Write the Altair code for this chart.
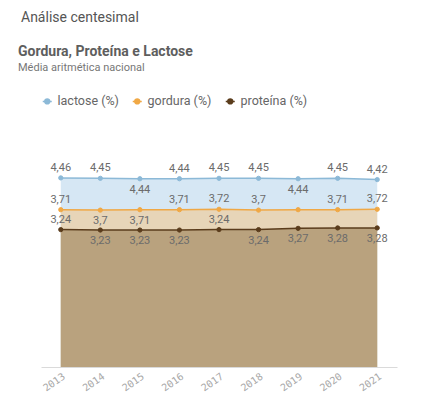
import altair as alt
import pandas as pd

anos = ["2013", "2014", "2015", "2016", "2017", "2018", "2019", "2020", "2021"]
series = ["lactose (%)", "gordura (%)", "proteína (%)"]

lactose = [4.46, 4.45, 4.44, 4.44, 4.45, 4.45, 4.44, 4.45, 4.42]
gordura = [3.71, 3.70, 3.71, 3.71, 3.72, 3.70, 3.71, 3.71, 3.72]
proteina = [3.24, 3.23, 3.23, 3.23, 3.24, 3.24, 3.27, 3.28, 3.28]

# onde fica o rótulo de cada ponto (como no painel original)
pos_lactose = ["cima", "cima", "baixo", "cima", "cima", "cima", "baixo", "cima", "cima"]
pos_gordura = ["cima", "baixo", "baixo", "cima", "cima", "cima", "nenhum", "cima", "cima"]
pos_proteina = ["cima", "baixo", "baixo", "baixo", "cima", "baixo", "baixo", "baixo", "baixo"]

cores_linha = ["#8cb9d7", "#f0a845", "#5a3c1c"]
cores_area = ["#d6e7f4", "#e7d5b8", "#b9a27e"]

rows = []
for serie, valores, posicoes in zip(
    series, [lactose, gordura, proteina], [pos_lactose, pos_gordura, pos_proteina]
):
    for ano, v, p in zip(anos, valores, posicoes):
        rows.append(
            {"Ano": ano, "Série": serie, "Valor": v, "Rótulo": str(v).replace(".", ","), "Pos": p}
        )
df = pd.DataFrame(rows)

FONT = "Roboto"
x = alt.X(
    "Ano:N",
    title=None,
    sort=anos,
    scale=alt.Scale(type="point", padding=0.5),
    axis=alt.Axis(
        labelAngle=325,
        labelFont="DejaVu Sans Mono",
        labelFontSize=10,
        labelColor="#a8a8a8",
        ticks=False,
        domainColor="#dadada",
        labelPadding=4,
    ),
)
y = alt.Y("Valor:Q", title=None, stack=None, scale=alt.Scale(domain=[0, 5]), axis=None)

cor_escala = alt.Scale(domain=series, range=cores_linha)
legenda = alt.Legend(
    title=None,
    orient="top",
    direction="horizontal",
    symbolType="M-1,0L1,0M0.55,0A0.55,0.55,0,1,1,-0.55,0A0.55,0.55,0,1,1,0.55,0",
    symbolSize=81,
    symbolStrokeWidth=1.5,
    labelFont=FONT,
    labelFontSize=12.5,
    labelColor="#666666",
    columnPadding=10,
    offset=47,
)

base = alt.Chart(df)
layers = []
for serie, cor in zip(series, cores_area):
    layers.append(
        base.transform_filter(alt.datum["Série"] == serie)
        .mark_area(color=cor, opacity=1)
        .encode(x=x, y=y)
    )

linhas = base.mark_line(strokeWidth=1.5).encode(
    x=x, y=y, color=alt.Color("Série:N", scale=cor_escala, sort=series, legend=legenda)
)
pontos = base.mark_point(filled=True, size=18, strokeWidth=1, opacity=1).encode(
    x=x,
    y=y,
    fill=alt.Fill("Série:N", scale=cor_escala, sort=series, legend=legenda),
    stroke=alt.Stroke("Série:N", scale=cor_escala, sort=series, legend=legenda),
)
rot_cima = (
    base.transform_filter(alt.datum.Pos == "cima")
    .mark_text(font=FONT, fontSize=11, color="#6b6b6b", baseline="alphabetic", dy=-7)
    .encode(x=x, y=y, text="Rótulo:N")
)
rot_baixo = (
    base.transform_filter(alt.datum.Pos == "baixo")
    .mark_text(font=FONT, fontSize=11, color="#6b6b6b", baseline="top", dy=5)
    .encode(x=x, y=y, text="Rótulo:N")
)

inner = alt.layer(*layers, linhas, pontos, rot_cima, rot_baixo).properties(
    width=356,
    height=212,
    title=alt.TitleParams(
        "Gordura, Proteína e Lactose",
        subtitle="Média aritmética nacional",
        anchor="start",
        frame="group",
        dx=-23,
        font=FONT,
        fontSize=14,
        fontWeight="bold",
        color="#5e5e5e",
        subtitleFont=FONT,
        subtitleFontSize=11,
        subtitleColor="#777777",
        subtitlePadding=3,
        offset=22,
    ),
)

chart = (
    alt.vconcat(inner)
    .resolve_legend(color="independent", fill="independent", stroke="independent")
    .properties(
        title=alt.TitleParams(
            "Análise centesimal",
            anchor="start",
            dx=3,
            font=FONT,
            fontSize=14,
            fontWeight="normal",
            color="#555555",
            offset=20,
        ),
        padding={"left": 10, "top": 3, "right": 5, "bottom": 5},
    )
    .configure_view(stroke=None)
)

chart.save("out.html", embed_options={"renderer": "svg", "actions": False})
